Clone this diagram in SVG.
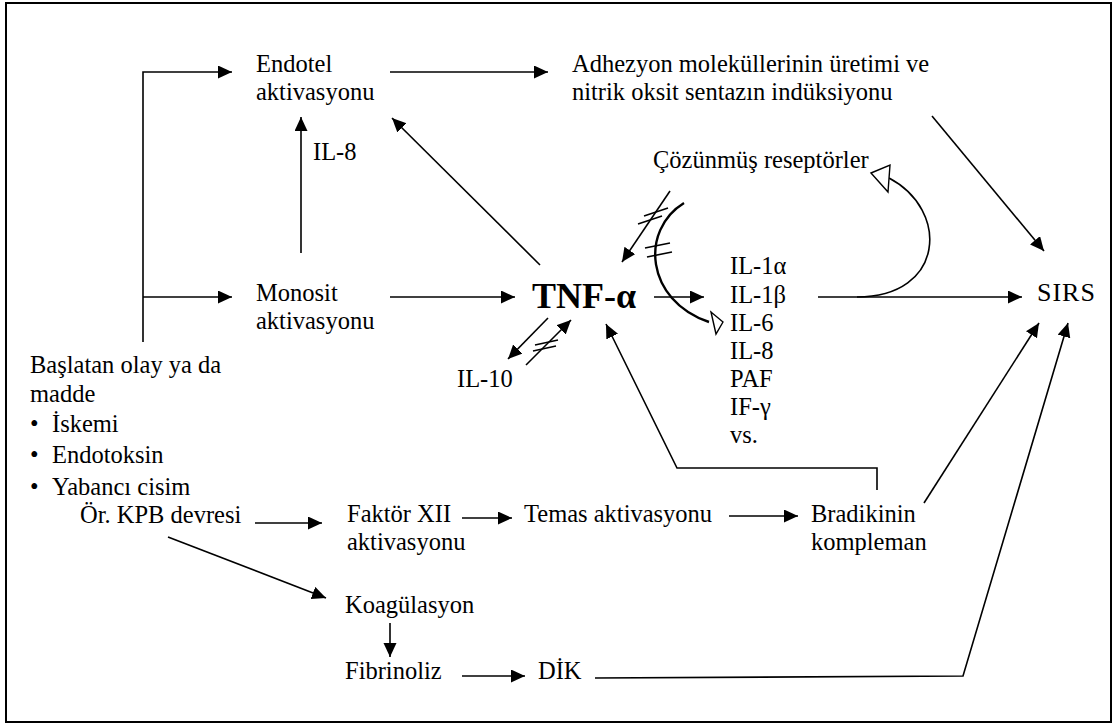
<svg xmlns="http://www.w3.org/2000/svg" width="1118" height="727" viewBox="0 0 1118 727" font-family="'Liberation Serif', 'Times New Roman', Times, serif">
<defs>
<marker id="ah" markerUnits="userSpaceOnUse" markerWidth="16" markerHeight="14" refX="14" refY="6.5" orient="auto">
<path d="M0,0 L14,6.5 L0,13 z" fill="#000"/>
</marker>
</defs>
<style>
text{font-size:24.5px;fill:#000}
.c line,.c polyline,.c path{stroke:#000;stroke-width:1.6;fill:none}
.c .a{marker-end:url(#ah)}
.c .thick{stroke-width:2.4}
.c .open{fill:#fff;stroke:#000;stroke-width:1.4}
</style>
<rect x="6" y="3" width="1105" height="719" fill="#fff" stroke="#000" stroke-width="2"/>
<g class="c" id="connectors">
<polyline points="143,342 143,72 232,72" class="a"/>
<line x1="143" y1="297" x2="232" y2="297" class="a"/>
<line x1="390" y1="72" x2="548" y2="72" class="a"/>
<line x1="301" y1="253" x2="301" y2="117" class="a"/>
<line x1="540" y1="265" x2="392" y2="118" class="a"/>
<line x1="390" y1="297" x2="515" y2="297" class="a"/>
<line x1="654" y1="297" x2="704" y2="297" class="a"/>
<line x1="932" y1="116" x2="1044" y2="251" class="a"/>
<line x1="818" y1="297" x2="1022" y2="297" class="a"/>
<path d="M857,297 C945,297 950,210 889,178"/>
<polygon class="open" points="871,173 890,165 888,192"/>
<path class="thick" d="M684,203 C640,230 645,300 709,322"/>
<polygon class="open" points="723,322 711,312 716,334"/>
<line x1="645" y1="248" x2="670" y2="243"/>
<line x1="647" y1="257" x2="672" y2="252"/>
<line x1="670" y1="191" x2="622" y2="262" class="a"/>
<line x1="644" y1="216" x2="668" y2="208"/>
<line x1="638" y1="224" x2="662" y2="216"/>
<line x1="548" y1="318" x2="508" y2="359" class="a"/>
<line x1="526" y1="365" x2="571" y2="320" class="a"/>
<line x1="535" y1="345" x2="558" y2="340"/>
<line x1="533" y1="351" x2="556" y2="346"/>
<polyline points="877,490 877,468 677,468 606,324" class="a"/>
<line x1="924" y1="503" x2="1039" y2="323" class="a"/>
<polyline points="595,678 963,676 1068,323" class="a"/>
<line x1="255" y1="523" x2="322" y2="523" class="a"/>
<line x1="462" y1="518" x2="512" y2="518" class="a"/>
<line x1="729" y1="516" x2="798" y2="516" class="a"/>
<line x1="168" y1="537" x2="326" y2="598" class="a"/>
<line x1="390" y1="623" x2="390" y2="657" class="a"/>
<line x1="462" y1="676" x2="525" y2="676" class="a"/>
</g>
<g id="endotel"><text x="256" y="72">Endotel</text><text x="256" y="100">aktivasyonu</text></g>
<g id="adhezyon"><text x="572" y="72">Adhezyon moleküllerinin üretimi ve</text><text x="572" y="100">nitrik oksit sentazın indüksiyonu</text></g>
<g id="il8label"><text x="313" y="160">IL-8</text></g>
<g id="cozunmus"><text x="653" y="168">Çözünmüş reseptörler</text></g>
<g id="monosit"><text x="256" y="301">Monosit</text><text x="256" y="329">aktivasyonu</text></g>
<g id="tnf"><text x="532" y="308" font-size="36" font-weight="bold" style="font-size:36px">TNF-α</text></g>
<g id="cytokines">
<text x="730" y="274">IL-1α</text>
<text x="730" y="303">IL-1β</text>
<text x="730" y="331">IL-6</text>
<text x="730" y="359">IL-8</text>
<text x="730" y="387">PAF</text>
<text x="730" y="415">IF-γ</text>
<text x="730" y="443">vs.</text>
</g>
<g id="sirs"><text x="1037" y="301" style="font-size:26px;letter-spacing:1px">SIRS</text></g>
<g id="il10"><text x="457" y="387">IL-10</text></g>
<g id="baslatan">
<text x="30" y="373">Başlatan olay ya da</text>
<text x="30" y="402">madde</text>
<text x="30" y="432">•</text><text x="52" y="432">İskemi</text>
<text x="30" y="463">•</text><text x="52" y="463">Endotoksin</text>
<text x="30" y="495">•</text><text x="52" y="495">Yabancı cisim</text>
<text x="80" y="523">Ör. KPB devresi</text>
</g>
<g id="faktor"><text x="347" y="522">Faktör XII</text><text x="347" y="550">aktivasyonu</text></g>
<g id="temas"><text x="524" y="522">Temas aktivasyonu</text></g>
<g id="bradikinin"><text x="811" y="522">Bradikinin</text><text x="811" y="550">kompleman</text></g>
<g id="koagulasyon"><text x="345" y="613">Koagülasyon</text></g>
<g id="fibrinoliz"><text x="345" y="679">Fibrinoliz</text></g>
<g id="dik"><text x="538" y="679">DİK</text></g>
</svg>
